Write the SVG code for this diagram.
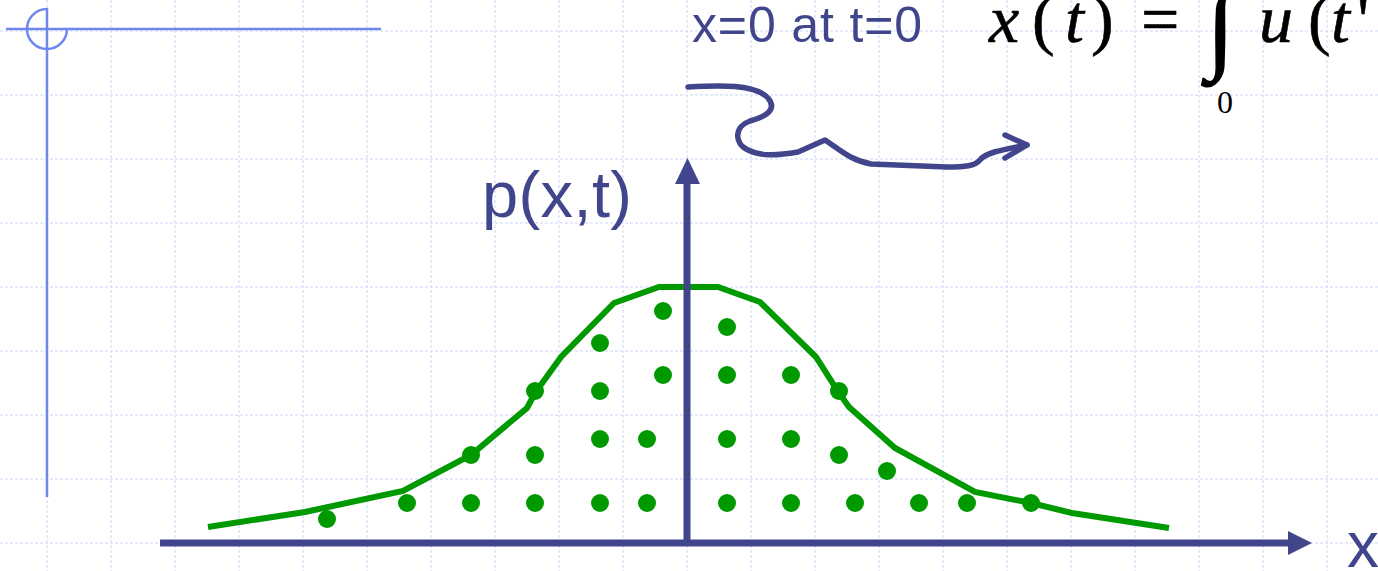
<svg xmlns="http://www.w3.org/2000/svg" width="1378" height="571" viewBox="0 0 1378 571">
  <defs>
    <style>
      .grid line { stroke: #dbe3fc; stroke-width: 1.5; stroke-dasharray: 3 2; }
      .title { stroke: #6f87f0; stroke-width: 2.5; fill: none; }
      .axis { stroke: #41468c; stroke-width: 7; fill: none; }
      .head { fill: #41468c; }
      .lbl { font-family: "Liberation Sans", Arial, sans-serif; fill: #41468c; }
      .math { font-family: "Liberation Serif", "Times New Roman", serif; fill: #000; stroke: #000; stroke-width: 0.6; }
      .curve { stroke: #009900; stroke-width: 6; fill: none; stroke-linejoin: miter; }
      .dots circle { fill: #009900; }
      .walk { stroke: #41468c; stroke-width: 5.5; fill: none; stroke-linecap: round; stroke-linejoin: round; }
    </style>
  </defs>
  <rect width="1378" height="571" fill="#ffffff"/>
  <g id="grid" class="grid">
    <line x1="47" y1="0" x2="47" y2="571"/><line x1="111" y1="0" x2="111" y2="571"/>
    <line x1="175" y1="0" x2="175" y2="571"/><line x1="239" y1="0" x2="239" y2="571"/>
    <line x1="303" y1="0" x2="303" y2="571"/><line x1="367" y1="0" x2="367" y2="571"/>
    <line x1="431" y1="0" x2="431" y2="571"/><line x1="495" y1="0" x2="495" y2="571"/>
    <line x1="559" y1="0" x2="559" y2="571"/><line x1="623" y1="0" x2="623" y2="571"/>
    <line x1="687" y1="0" x2="687" y2="571"/><line x1="751" y1="0" x2="751" y2="571"/>
    <line x1="815" y1="0" x2="815" y2="571"/><line x1="879" y1="0" x2="879" y2="571"/>
    <line x1="943" y1="0" x2="943" y2="571"/><line x1="1007" y1="0" x2="1007" y2="571"/>
    <line x1="1071" y1="0" x2="1071" y2="571"/><line x1="1135" y1="0" x2="1135" y2="571"/>
    <line x1="1199" y1="0" x2="1199" y2="571"/><line x1="1263" y1="0" x2="1263" y2="571"/>
    <line x1="1327" y1="0" x2="1327" y2="571"/>
    <line x1="0" y1="31" x2="1378" y2="31"/><line x1="0" y1="95" x2="1378" y2="95"/>
    <line x1="0" y1="159" x2="1378" y2="159"/><line x1="0" y1="223" x2="1378" y2="223"/>
    <line x1="0" y1="287" x2="1378" y2="287"/><line x1="0" y1="351" x2="1378" y2="351"/>
    <line x1="0" y1="415" x2="1378" y2="415"/><line x1="0" y1="479" x2="1378" y2="479"/>
    <line x1="0" y1="543" x2="1378" y2="543"/>
  </g>
  <g id="title-mark" class="title">
    <line x1="6" y1="29" x2="381" y2="29"/>
    <line x1="47" y1="8" x2="47" y2="497"/>
    <path d="M47,9 A20,20 0 1,0 67,29"/>
  </g>
  <g id="curve">
    <polyline class="curve" points="208,527 305,512 403,491 471,455 527,408 535,393 561,357 614,303 659,287 718,287 760,302 816,357 839,393 849,407 895,448 975,492 1031,503 1072,513 1169,528"/>
  </g>
  <g id="particles" class="dots">
    <circle cx="327" cy="519" r="9"/>
    <circle cx="407" cy="503" r="9"/><circle cx="471" cy="503" r="9"/><circle cx="535" cy="503" r="9"/>
    <circle cx="600" cy="503" r="9"/><circle cx="647" cy="503" r="9"/><circle cx="727" cy="503" r="9"/>
    <circle cx="791" cy="503" r="9"/><circle cx="855" cy="503" r="9"/><circle cx="919" cy="503" r="9"/>
    <circle cx="967" cy="503" r="9"/><circle cx="1031" cy="503" r="9"/>
    <circle cx="471" cy="455" r="9"/><circle cx="535" cy="455" r="9"/><circle cx="839" cy="455" r="9"/>
    <circle cx="887" cy="471" r="9"/>
    <circle cx="600" cy="439" r="9"/><circle cx="647" cy="439" r="9"/><circle cx="727" cy="439" r="9"/>
    <circle cx="791" cy="439" r="9"/>
    <circle cx="535" cy="391" r="9"/><circle cx="600" cy="391" r="9"/><circle cx="839" cy="391" r="9"/>
    <circle cx="663" cy="375" r="9"/><circle cx="727" cy="375" r="9"/><circle cx="791" cy="375" r="9"/>
    <circle cx="600" cy="343" r="9"/><circle cx="727" cy="327" r="9"/><circle cx="663" cy="311" r="9"/>
  </g>
  <g id="axes">
    <g id="x-axis">
      <line class="axis" x1="160" y1="543" x2="1292" y2="543"/>
      <polygon class="head" points="1288,531 1312,543 1288,555"/>
    </g>
    <g id="y-axis">
      <line class="axis" x1="687" y1="546" x2="687" y2="180"/>
      <polygon class="head" points="675,184 687.5,158 700,184"/>
    </g>
  </g>
  <g id="labels">
    <text class="lbl" x="482" y="217" font-size="65" textLength="150" lengthAdjust="spacing">p(x,t)</text>
    <text class="lbl" x="1347" y="567" font-size="64">x</text>
    <text class="lbl" x="692" y="42" font-size="50" textLength="230" lengthAdjust="spacing">x=0 at t=0</text>
  </g>
  <g id="walk">
    <path class="walk" d="M688,87 C720,85 755,84 768,98 C778,110 765,117 750,121 C735,126 733,143 748,150 C760,156 775,156 798,152 L825,140 C840,150 850,160 871,164 L947,167 C965,167 975,166 980,160 C985,153 1000,150 1027,145"/>
    <path class="walk" d="M1005,135 L1027,145 L1005,158"/>
  </g>
  <g id="formula" class="math" font-size="68">
    <text x="989" y="42" font-style="italic">x</text>
    <text x="1032" y="42">(</text>
    <text x="1065" y="42" font-style="italic">t</text>
    <text x="1091" y="42">)</text>
    <text x="1141" y="42">=</text>
    <text x="1207" y="60" font-size="100" stroke-width="1.5">∫</text>
    <text x="1217" y="113" font-size="32" stroke-width="0">0</text>
    <text x="1259" y="42" font-style="italic">u</text>
    <text x="1308" y="42">(</text>
    <text x="1331" y="42" font-style="italic">t</text>
    <text x="1357" y="42">'</text>
  </g>
</svg>
